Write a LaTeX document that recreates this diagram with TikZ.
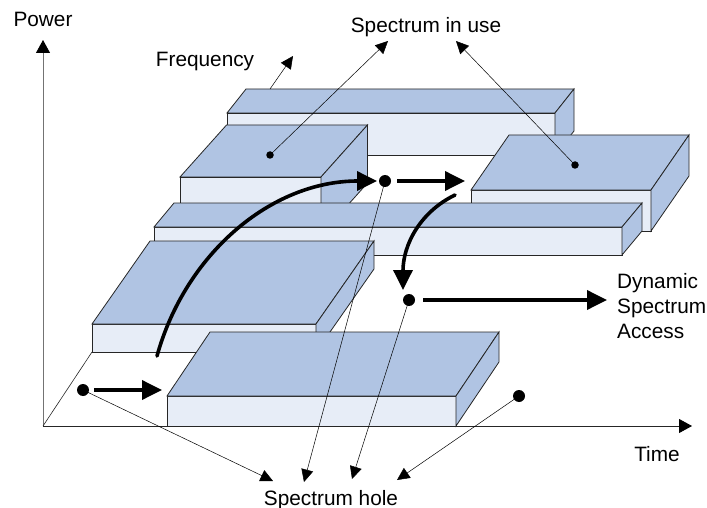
\documentclass[tikz,border=0pt]{standalone}
\usepackage{fontspec}
\setmainfont{Liberation Sans}
\usetikzlibrary{arrows.meta}
\definecolor{topblue}{RGB}{176,196,227}
\definecolor{frontblue}{RGB}{231,237,247}
\tikzset{
  face/.style={draw=black!85, line width=0.8pt, line join=miter},
  lbl/.style={inner sep=0pt, font=\fontsize{20.8}{25}\selectfont},
  thinarrow/.style={line width=0.5pt, -{Triangle[length=12.5pt,width=12pt]}},
  thickarrow/.style={line width=3.6pt, -{Triangle[length=20pt,width=19pt]}},
  bigdot/.style={circle, fill=black, inner sep=0pt, minimum size=12pt},
  smalldot/.style={circle, fill=black, inner sep=0pt, minimum size=7.5pt},
}
\newcommand{\drawslab}[6]{%
  \filldraw[face, fill=frontblue] (#1,#2) rectangle ++(#3,#4);
  \filldraw[face, fill=topblue] (#1,#2) -- ++(#5,-#6) -- ++(#3,0) -- ++(-#5,#6) -- cycle;
  \filldraw[face, fill=topblue] (#1+#3,#2) -- ++(#5,-#6) -- ++(0,#4) -- ++(-#5,#6) -- cycle;
}
\begin{document}
\begin{tikzpicture}[x=1pt,y=-1pt]
\useasboundingbox (0,0) rectangle (707,508);
% axes
\coordinate (O) at (43,426);
\coordinate (Ptip) at (43,40);
\coordinate (Ttip) at (692,426);
\coordinate (floorback) at (92,352);
\draw[line width=0.9pt, black!55, -{Triangle[length=13pt,width=14pt,color=black]}] (O) -- (Ptip);
\draw[line width=0.9pt, black!85, -{Triangle[length=13pt,width=14pt,color=black]}] (O) -- (Ttip);
\draw[line width=0.6pt, black!85] (O) -- (floorback);
% slabs, back to front
\drawslab{227}{113}{328}{42}{19}{24}
\drawslab{180}{177}{141}{58}{46.5}{52}
\drawslab{471}{190}{180}{41}{38}{55}
\drawslab{154}{227}{468}{28}{20}{24}
\drawslab{92}{324}{224}{28}{58}{83}
\drawslab{167}{396}{289}{30}{43}{64}
% labels
\node[lbl, anchor=base] (power) at (43,27) {Power};
\node[lbl, anchor=base] (freq) at (205,67) {Frequency};
\node[lbl, anchor=base] (inuse) at (426,33) {Spectrum in use};
\node[lbl, anchor=base] (hole) at (331,505) {Spectrum hole};
\node[lbl, anchor=base] (time) at (657,461) {Time};
\node[lbl, anchor=west, align=left] (dsa) at (617,306.5) {Dynamic\\Spectrum\\Access};
% frequency arrow
\coordinate (f0) at (270,89);
\coordinate (f1) at (293,56);
\draw[thinarrow] (f0) -- (f1);
% dots
\node[smalldot] (u1) at (270,155) {};
\node[smalldot] (u2) at (575,165) {};
\node[bigdot] (d1) at (83,390) {};
\node[bigdot] (d2) at (385,181) {};
\node[bigdot] (d3) at (409,300) {};
\node[bigdot] (d4) at (519,396) {};
% thin pointer arrows
\coordinate (iu1) at (388,41);
\coordinate (iu2) at (456,41);
\coordinate (h1) at (273,481);
\coordinate (h2) at (304,482);
\coordinate (h3) at (352,479);
\coordinate (h4) at (397,480);
\draw[thinarrow] (u1.center) -- (iu1);
\draw[thinarrow] (u2.center) -- (iu2);
\draw[thinarrow] (d1.center) -- (h1);
\draw[thinarrow] (d2.center) -- (h2);
\draw[thinarrow] (d3.center) -- (h3);
\draw[thinarrow] (d4.center) -- (h4);
% thick arrows
\coordinate (a1) at (162,390);
\coordinate (c0) at (157,356);
\coordinate (c1) at (377,181);
\coordinate (a2) at (465,181);
\coordinate (e0) at (455,195);
\coordinate (e1) at (403,290);
\coordinate (a3) at (607,300);
\draw[thickarrow, shorten <=5pt] (d1) -- (a1);
\draw[thickarrow, line cap=round] (c0) .. controls (185,255) and (270,181) .. (c1);
\draw[thickarrow, shorten <=6pt] (d2) -- (a2);
\draw[thickarrow, line cap=round] (e0) .. controls (420,212) and (403,245) .. (e1);
\draw[thickarrow, shorten <=8pt] (d3) -- (a3);
\end{tikzpicture}
\end{document}
